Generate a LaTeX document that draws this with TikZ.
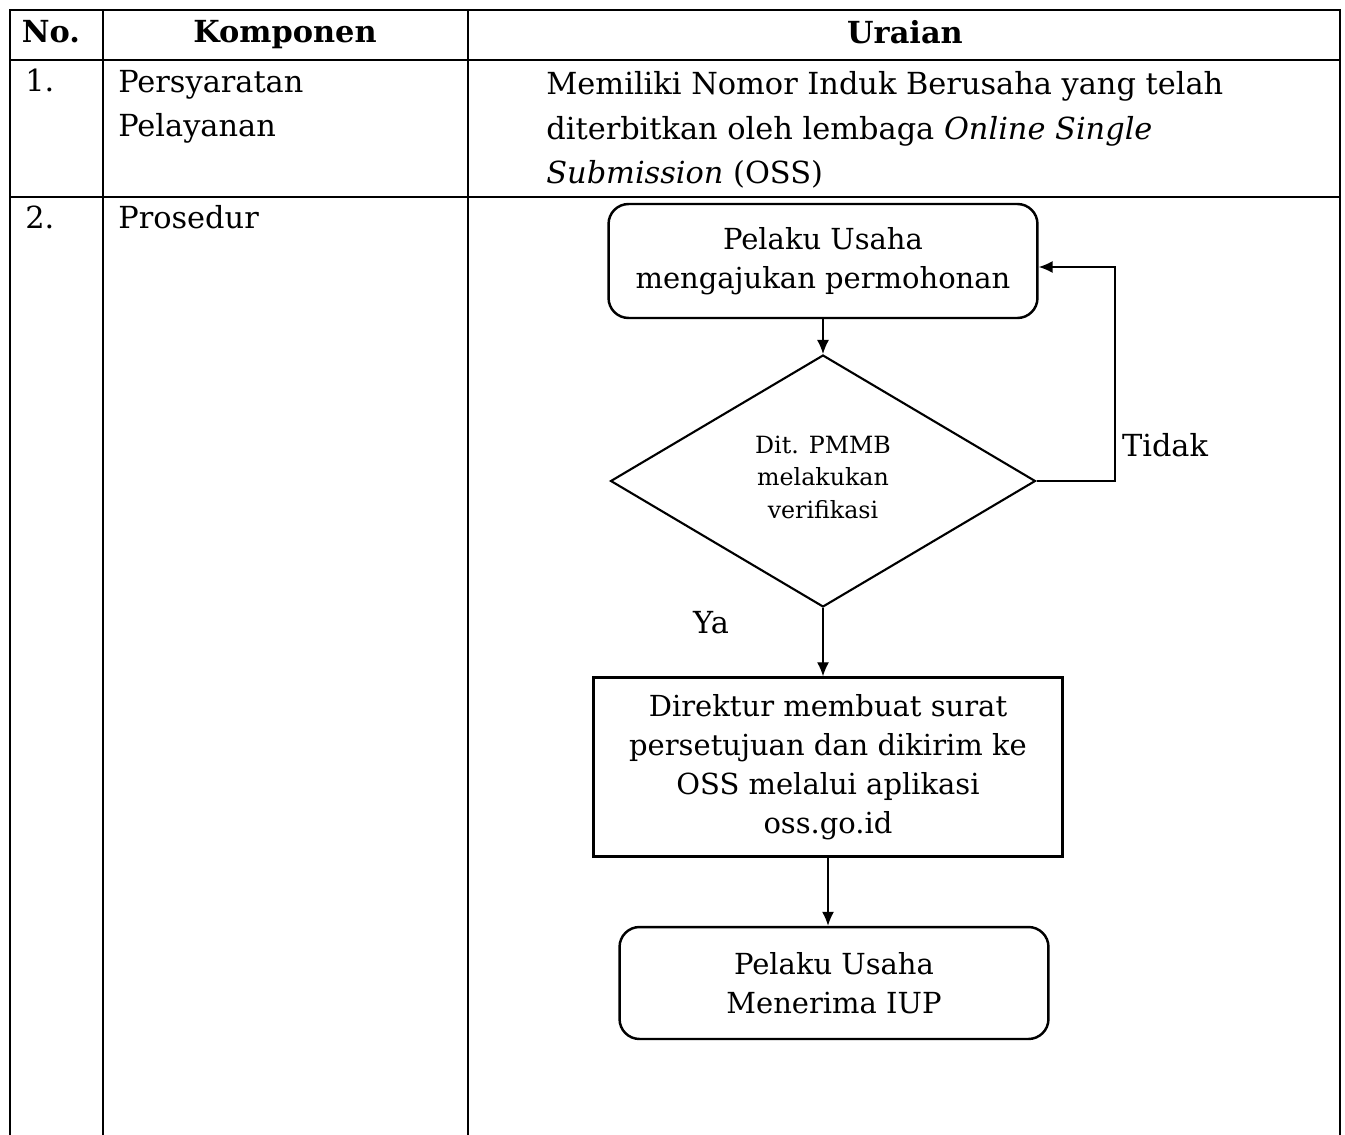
\documentclass[tikz,border=0pt]{standalone}
\usepackage{fontspec}
\setmainfont{DejaVu Serif}
\usepackage{tikz}
\usetikzlibrary{positioning}
\usetikzlibrary{shapes.geometric}
\usetikzlibrary{arrows.meta}

\begin{document}
\begin{tikzpicture}[x=0.02cm,y=-0.02cm,
						roundbox/.style={rectangle, rounded corners=0.4cm, draw=black, line width=1.4pt, fill=white, align=center, inner sep=0pt, font=\fontsize{16.5}{22}\selectfont},
						squarebox/.style={rectangle, draw=black, line width=1.4pt, fill=white, align=center, inner sep=0pt, font=\fontsize{16.5}{22.3}\selectfont},
						decisionnode/.style={diamond, draw=black, line width=1.2pt, fill=white, align=center, inner sep=0pt, font=\fontsize{13.5}{18.5}\selectfont},
						celltext/.style={inner sep=0pt, align=left, font=\fontsize{17.3}{25.5}\selectfont},
						headtext/.style={inner sep=0pt, anchor=base, font=\fontsize{17.3}{20}\selectfont\bfseries},
						gridline/.style={line width=0.9pt},
						flowline/.style={line width=0.8pt,-{Latex[length=2.8mm,width=2.4mm]}},
						]
						\useasboundingbox (0,0) rectangle (1345,1135);
						%Table
						\draw[gridline] (10,1135) -- (10,10) -- (1340,10) -- (1340,1135);
						\draw[gridline] (103,10) -- (103,1135);
						\draw[gridline] (468,10) -- (468,1135);
						\draw[gridline] (10,60) -- (1340,60);
						\draw[gridline] (10,197) -- (1340,197);

						%Header
						\node[headtext]      (hno)     at   (51,43)      {No.};
						\node[headtext]      (hkomp)   at   (285,43)     {Komponen};
						\node[headtext]      (hurai)   at   (905,44)     {Uraian};

						%Rows
						\node[celltext, anchor=base west]    (no1)    at   (25,92)     {1.};
						\node[celltext, anchor=base west]    (komp1)  at   (118,137)   {Persyaratan\\Pelayanan};
						\node[celltext, anchor=base west]    (urai1)  at   (546,184)   {Memiliki Nomor Induk Berusaha yang telah\\diterbitkan oleh lembaga \textit{Online Single}\\\textit{Submission} (OSS)};
						\node[celltext, anchor=base west]    (no2)    at   (25,229)    {2.};
						\node[celltext, anchor=base west]    (komp2)  at   (118,229)   {Prosedur};

						%Nodes
						\node[roundbox, minimum width=8.58cm, minimum height=2.28cm]   (ajukan)   at   (823,261)   {Pelaku Usaha\\mengajukan permohonan};
						\node[decisionnode, minimum width=8.5cm, minimum height=5.04cm]  (verif)    at   (823,481)   {Dit. PMMB\\melakukan\\verifikasi\\[-14pt]};
						\node[squarebox, minimum width=9.38cm, minimum height=3.58cm]  (direktur) at   (828,767)   {Direktur membuat surat\\persetujuan dan dikirim ke\\OSS melalui aplikasi\\oss.go.id};
						\node[roundbox, minimum width=8.58cm, minimum height=2.24cm]   (terima)   at   (834,983)   {Pelaku Usaha\\Menerima IUP};
						\coordinate  (balik)  at  (1115,267);
						\node[celltext]      (tidak)   at   (1165,445)   {Tidak};
						\node[celltext]      (ya)      at   (711,623)    {Ya};

						%Lines
						\draw[flowline] (ajukan.south) -- (verif.north);
						\draw[flowline] (verif.east) -| (balik) -- (ajukan.east |- balik);
						\draw[flowline] (verif.south) -- (verif.south |- direktur.north);
						\draw[flowline] (direktur.south) -- (direktur.south |- terima.north);
					\end{tikzpicture}
\end{document}
